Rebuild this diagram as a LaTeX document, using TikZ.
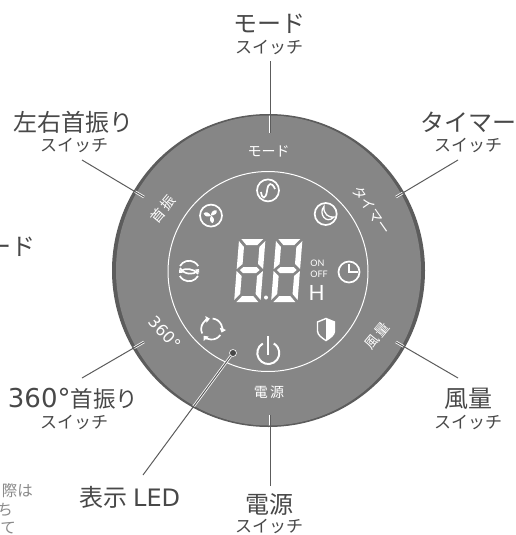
\documentclass[tikz,border=0pt]{standalone}
\usepackage{fontspec}
\setmainfont{Noto Sans CJK JP}
\newfontfamily\latinfont{Lato}
\newfontfamily\digitfont{DejaVu Sans}
\usetikzlibrary{arrows.meta, shapes.geometric}
\definecolor{panelgray}{HTML}{868686}
\definecolor{rimgray}{HTML}{5C5C5C}
\definecolor{inkgray}{HTML}{484848}
\definecolor{notegray}{HTML}{8A8A8A}
\newcommand\bigtxt{\fontsize{24}{24}\selectfont}
\newcommand\subtxt{\fontsize{17}{17}\selectfont}
\newcommand\paneltxt{\fontsize{14}{14}\selectfont}
\newcommand\notetxt{\fontsize{15.5}{15.5}\selectfont}
\tikzset{
  bigname/.style={inner sep=0pt, text=inkgray, font=\bigtxt},
  subname/.style={inner sep=0pt, text=inkgray, font=\subtxt},
  notename/.style={inner sep=0pt, text=notegray, font=\notetxt, anchor=east},
  ontxt/.style={inner sep=0pt, text=white, font=\paneltxt},
  ring/.style={circle, draw=white, line width=1.7pt, inner sep=0pt},
  icon/.style={draw=white, line width=1.7pt},
  leader/.style={draw=rimgray, line width=1pt},
  halo/.style={draw=white, line width=2.6pt}
}
\begin{document}
\begin{tikzpicture}[x=1pt, y=1pt]
\useasboundingbox (0, 0) rectangle (516, -535);
% panel
\node [circle, fill=rimgray, minimum size=313pt, inner sep=0pt] (rim) at (268.5, -270.5) {};
\node [ellipse, fill=panelgray, minimum width=305pt, minimum height=310pt, inner sep=0pt] (panel) at (268.5, -270.5) {};
\node [circle, draw=white, line width=1pt, minimum size=200pt, inner sep=0pt] (inner) at (268, -271.5) {};
% names outside
\node [bigname] (modename) at (269, -24) {モード};
\node [subname] (modesub) at (269, -47) {スイッチ};
\node [bigname] (timername) at (468.5, -122) {タイマー};
\node [subname] (timersub) at (468, -145) {スイッチ};
\node [bigname] (swingname) at (73.5, -122) {左右首振り};
\node [subname] (swingsub) at (74, -145) {スイッチ};
\node [bigname] (fullname) at (73, -399) {{\digitfont\fontsize{26}{26}\selectfont 360°}{\fontsize{22.5}{24}\selectfont 首振り}};
\node [subname] (fullsub) at (74, -422) {スイッチ};
\node [bigname] (windname) at (468, -399) {風量};
\node [subname] (windsub) at (468, -422) {スイッチ};
\node [bigname] (powername) at (269, -504) {電源};
\node [subname] (powersub) at (269, -526.5) {スイッチ};
\node [bigname] (ledname) at (130, -497) {表示 {\digitfont LED}};
\node [bigname, anchor=east] (cutname) at (36, -247) {ード};
\node [notename] (notea) at (33, -491) {際は};
\node [notename] (noteb) at (13, -510) {ち};
\node [notename] (notec) at (16, -528) {て};
% names on the panel
\node [ontxt] (modekey) at (268.5, -151) {モード};
\node [ontxt, rotate=-55] (timerkey) at (372, -210) {タイマー};
\node [ontxt, rotate=50] (swingkey) at (163, -209) {首\,振};
\node [ontxt, rotate=-47] (fullkey) at (165, -333) {\digitfont\fontsize{16}{16}\selectfont 360°};
\node [ontxt, rotate=50] (windkey) at (377, -336) {風\,量};
\node [ontxt] (powerkey) at (269, -392) {電\,源};
% connector ends
\coordinate (modeend) at (270, -133);
\coordinate (timerend) at (396, -197);
\coordinate (swingend) at (144, -197);
\coordinate (fullend) at (144, -342);
\coordinate (windend) at (396, -342);
\coordinate (powerend) at (270, -415);
\coordinate (modefrom) at (270, -61.5);
\coordinate (timerfrom) at (458, -160);
\coordinate (swingfrom) at (82, -160);
\coordinate (fullfrom) at (82, -378);
\coordinate (windfrom) at (458, -378);
\coordinate (powerfrom) at (270, -486);
\coordinate (ledfrom) at (143, -475);
\node [circle, fill=inkgray, draw=white, line width=.6pt, minimum size=7pt, inner sep=0pt] (leddot) at (233, -353) {};
\begin{scope}
\clip (268.5, -270.5) circle (155);
\foreach \a/\b in {modefrom/modeend, timerfrom/timerend, swingfrom/swingend, fullfrom/fullend, windfrom/windend, powerfrom/powerend, ledfrom/leddot} {
  \draw [halo] (\a) -- (\b);
}
\end{scope}
\foreach \a/\b in {modefrom/modeend, timerfrom/timerend, swingfrom/swingend, fullfrom/fullend, windfrom/windend, powerfrom/powerend, ledfrom/leddot} {
  \draw [leader] (\a) -- (\b);
}
% digits
\foreach \px in {238, 275} {
\begin{scope} [shift={(\px, -239)}, xslant=0.08, xscale=1.1]
\fill [white] (3, 0) -- (23, 0) -- (18, -6) -- (8, -6) -- cycle;
\fill [white] (1, -2) -- (6, -8) -- (6, -25) -- (1, -30) -- cycle;
\fill [white] (25, -2) -- (25, -30) -- (20, -25) -- (20, -8) -- cycle;
\fill [white] (4, -31) -- (7, -28) -- (19, -28) -- (22, -31) -- (19, -34) -- (7, -34) -- cycle;
\fill [white] (1, -32) -- (6, -37) -- (6, -55) -- (1, -61) -- cycle;
\fill [white] (25, -32) -- (25, -61) -- (20, -55) -- (20, -37) -- cycle;
\fill [white] (3, -63) -- (8, -57) -- (18, -57) -- (23, -63) -- cycle;
\end{scope}
}
\node [circle, fill=white, minimum size=4pt, inner sep=0pt] (point) at (266, -297.5) {};
\node [inner sep=0pt, text=white, font=\latinfont\fontsize{9}{9}\selectfont] (onlabel) at (317.5, -263.4) {ON};
\node [inner sep=0pt, text=white, font=\latinfont\fontsize{9}{9}\selectfont] (offlabel) at (319, -274.7) {OFF};
\node [inner sep=0pt, text=white, font=\latinfont\fontsize{21}{21}\selectfont] (hourlabel) at (316.7, -292.7) {H};
% wave
\node [ring, minimum size=22pt] (wave) at (268, -190.4) {};
\draw [icon] (261, -192) .. controls (262, -200) and (266, -199) .. (267, -191) .. controls (268, -182) and (272, -182) .. (275, -189);
% moon
\node [ring, minimum size=22pt] (moon) at (325.7, -214) {};
\draw [icon, line width=1.3pt] (324, -206.5) .. controls (318, -213) and (326, -225) .. (334, -217) .. controls (329, -218) and (323, -214) .. (324, -206.5) -- cycle;
% fan
\node [ring, minimum size=22pt] (fan) at (211, -215.6) {};
\foreach \r in {20, 140, 260} {
  \fill [white, shift={(211, -215.6)}, rotate=\r] (0, 0) .. controls (1, 3) and (4, 5) .. (7, 3) .. controls (7, 0) and (4, -1) .. (0, 0);
}
% clock
\node [ring, minimum size=21pt] (clock) at (349, -272) {};
\draw [icon] (349, -264) -- (349, -272) -- (358, -272);
% shield
\draw [icon, line width=1.4pt] (317.5, -322) -- (326, -318.5) -- (334.5, -322) -- (334.5, -331) .. controls (334.5, -335) and (330, -338) .. (326, -340.5) .. controls (322, -338) and (317.5, -335) .. (317.5, -331) -- cycle;
\fill [white] (326, -318.5) -- (334.5, -322) -- (334.5, -331) .. controls (334.5, -335) and (330, -338) .. (326, -340.5) -- cycle;
% power
\draw [icon, line width=2pt] (262.8, -343.5) arc (120:420:11);
\draw [icon, line width=2pt] (268.3, -336) -- (268.3, -355);
% cycle
\foreach \r in {205, 85, -35} {
  \draw [icon, -{Triangle[length=4pt, width=6.5pt]}, shift={(211.7, -329)}] (\r:10.5) arc (\r:\r-105:10.5);
}
% rotate
\draw [icon] (180, -266) arc (150:30:10.5);
\draw [icon] (198, -276) arc (-30:-150:10.5);
\draw [icon, -{Triangle[length=3pt, width=5pt]}] (180, -268) .. controls (184, -275) and (194, -275) .. (199, -269);
\draw [icon, -{Triangle[length=3pt, width=5pt]}] (198, -274) .. controls (194, -268) and (184, -268) .. (179, -273);
\end{tikzpicture}
\end{document}
